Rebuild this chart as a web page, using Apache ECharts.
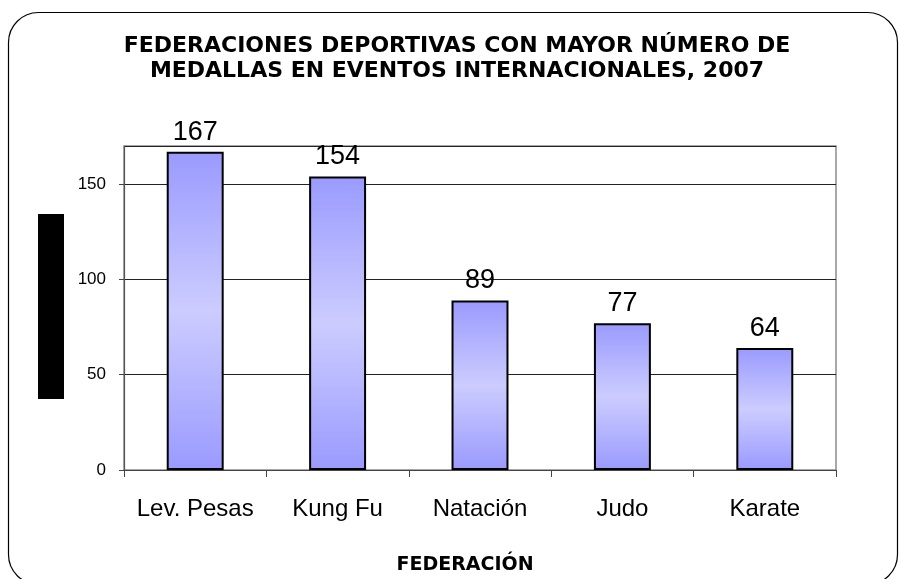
<!DOCTYPE html>
<html>
<head>
<meta charset="utf-8">
<script src="https://cdn.jsdelivr.net/npm/echarts@6/dist/echarts.min.js"></script>
<style>
  html, body { margin: 0; padding: 0; background: #fff; }
  #main { width: 901px; height: 579px; }
</style>
</head>
<body>
<div id="main"></div>
<script>
var categories = ["Lev. Pesas", "Kung Fu", "Natación", "Judo", "Karate"];
var medallas = [167, 154, 89, 77, 64];
var yTicks = [0, 50, 100, 150];

var chartDom = document.getElementById("main");
var myChart = echarts.init(chartDom);
var option;

var barFill = new echarts.graphic.LinearGradient(0, 0, 0, 1, [
  { offset: 0, color: "#9a9aff" },
  { offset: 0.5, color: "#ccccff" },
  { offset: 1, color: "#9a9aff" },
]);

option = {
  backgroundColor: "#fff",
  animation: false,
  title: {
    text: "FEDERACIONES DEPORTIVAS CON MAYOR NÚMERO DE\nMEDALLAS EN EVENTOS INTERNACIONALES, 2007",
    left: 452,
    textAlign: "center",
    top: 29,
    textStyle: {
      fontFamily: "DejaVu Sans, sans-serif",
      fontSize: 22,
      fontWeight: "bold",
      color: "#000",
      lineHeight: 25,
    },
  },
  graphic: [
    {
      type: "rect",
      shape: { x: 8.5, y: 12.5, width: 889, height: 572, r: 30 },
      style: { fill: "none", stroke: "#000", lineWidth: 1.2 },
      z: 100,
    },
    {
      type: "rect",
      shape: { x: 38, y: 214, width: 26, height: 185 },
      style: { fill: "#000" },
    },
    {
      type: "text",
      x: 465,
      y: 565,
      style: {
        text: "FEDERACIÓN",
        fontFamily: "DejaVu Sans, sans-serif",
        fontSize: 19,
        fontWeight: "bold",
        fill: "#000",
        align: "center",
        verticalAlign: "middle",
      },
    },
  ],
  grid: {
    left: 124,
    right: 65,
    top: 146,
    bottom: 109,
    show: true,
    borderColor: "#8c8c8c",
    borderWidth: 1.5,
  },
  xAxis: {
    type: "category",
    data: categories,
    axisLine: { lineStyle: { color: "#444", width: 1.2 } },
    axisTick: { show: true, length: 7, lineStyle: { color: "#444" } },
    axisLabel: {
      interval: 0,
      fontFamily: "Liberation Sans, Arial, sans-serif",
      fontSize: 24,
      color: "#000",
      margin: 27,
    },
  },
  yAxis: {
    type: "value",
    min: 0,
    max: 170,
    interval: 50,
    axisLine: { show: true, lineStyle: { color: "#555", width: 1.2 } },
    axisTick: { show: true, length: 5, lineStyle: { color: "#444" } },
    axisLabel: {
      showMaxLabel: false,
      fontFamily: "Liberation Sans, Arial, sans-serif",
      fontSize: 17,
      color: "#000",
      margin: 18,
      formatter: function (v) {
        return yTicks.indexOf(v) >= 0 ? String(v) : "";
      },
    },
    splitLine: { show: true, lineStyle: { color: "#222", width: 1 } },
  },
  series: [
    {
      type: "bar",
      data: medallas,
      barWidth: "40%",
      itemStyle: {
        color: barFill,
        borderColor: "#000",
        borderWidth: 2,
      },
      label: {
        show: true,
        position: "top",
        distance: 6,
        fontFamily: "Liberation Sans, Arial, sans-serif",
        fontSize: 27,
        color: "#000",
      },
    },
  ],
};

option && myChart.setOption(option);
</script>
</body>
</html>
